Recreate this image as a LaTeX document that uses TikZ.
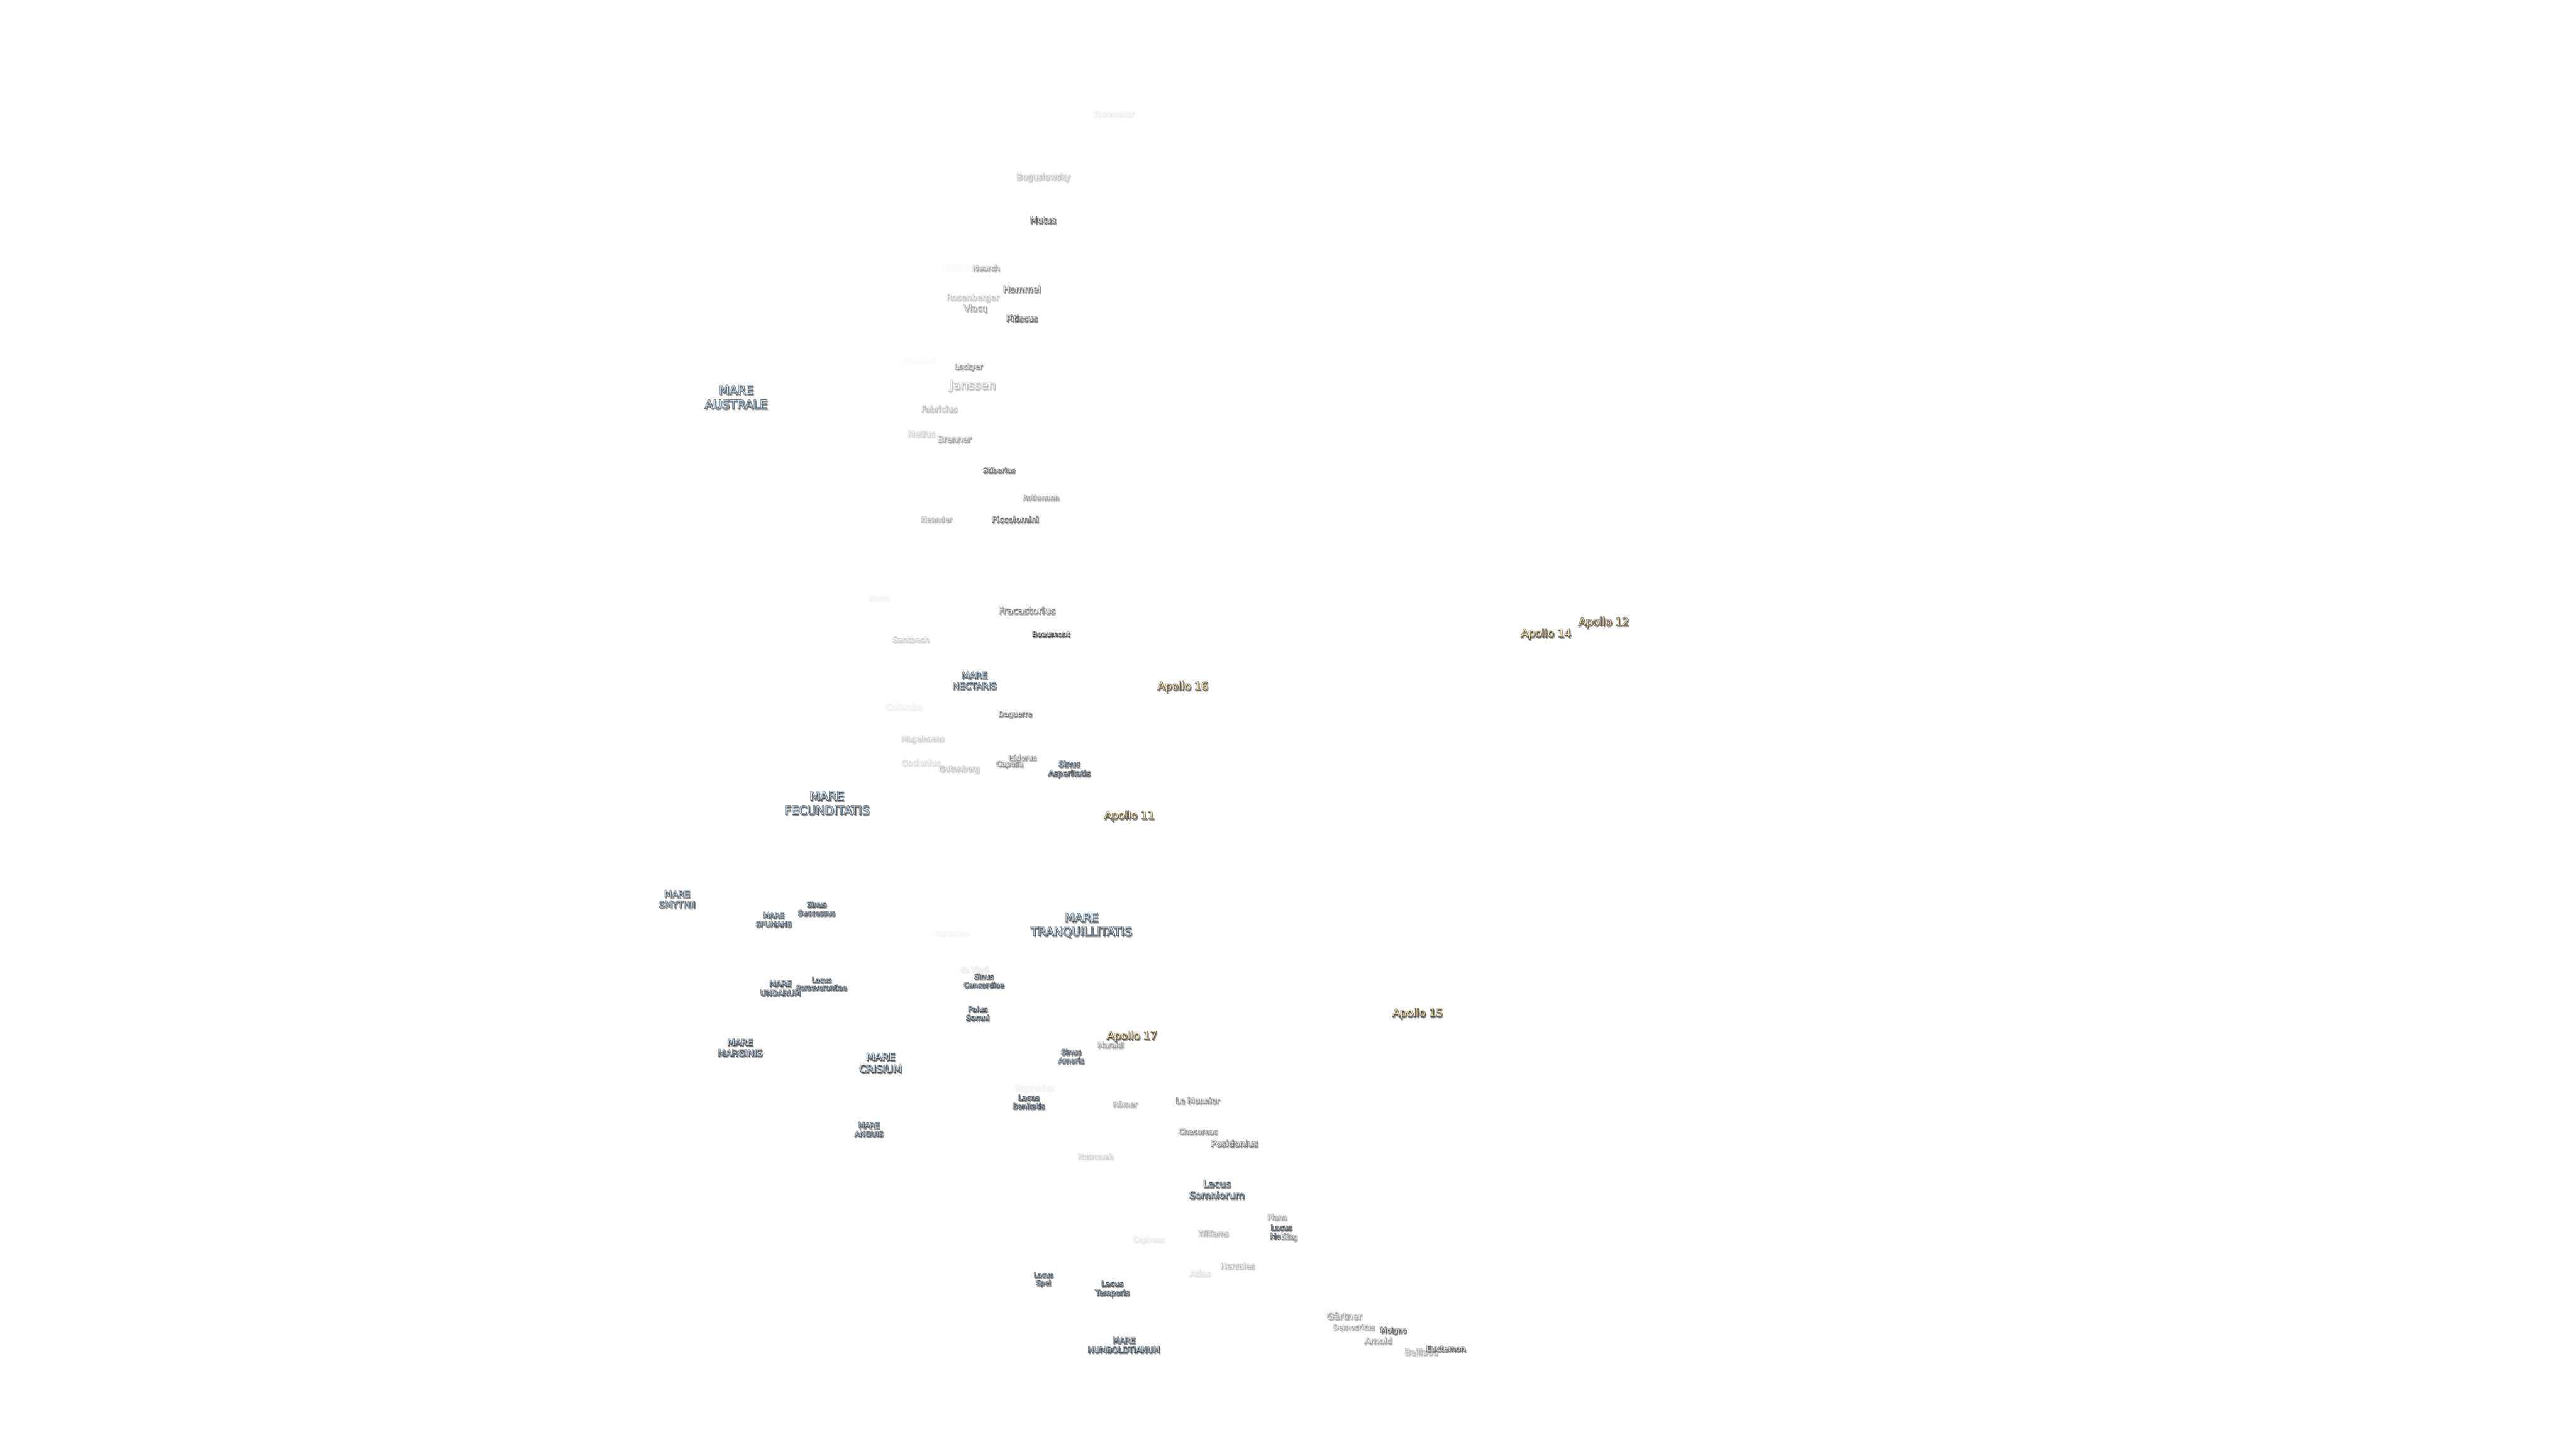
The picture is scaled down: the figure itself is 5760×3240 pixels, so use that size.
\documentclass[tikz,border=0pt]{standalone}
\usepackage{fontspec}
\setmainfont{DejaVu Sans}
\definecolor{marefill}{RGB}{190,216,240}
\definecolor{apollofill}{RGB}{250,224,170}
\tikzset{
  namebox/.style={inner sep=0pt, align=center, anchor=center},
  sitemark/.style={circle, inner sep=0pt, minimum size=4pt, fill=#1},
}
% node name, x, y, size, fill, fade, text
\newcommand{\moonname}[7]{%
  \pgfmathsetmacro{\edgegray}{1-0.72*pow(#6,0.8)}%
  \pgfmathsetmacro{\dropgray}{1-0.42*pow(#6,0.8)}%
  \pgfmathsetmacro{\linegap}{#4*1.18}%
  \node[namebox, text=white, font=\fontsize{#4}{\linegap}\selectfont] (#1drop) at (#2+2,#3+3)
    {\leavevmode\special{pdf:code 2 Tr 1.8 w \dropgray\space g \dropgray\space G}#7\special{pdf:code 0 Tr}};
  \node[namebox, text=white, font=\fontsize{#4}{\linegap}\selectfont] (#1edge) at (#2,#3)
    {\leavevmode\special{pdf:code 2 Tr 1.8 w \edgegray\space g \edgegray\space G}#7\special{pdf:code 0 Tr}};
  \node[namebox, text=#5, font=\fontsize{#4}{\linegap}\selectfont] (#1) at (#2,#3) {#7};
}
\newcommand{\crater}[6]{\moonname{#1}{#2}{#3}{#4}{white}{#5}{#6}}
\newcommand{\mare}[5]{\moonname{#1}{#2}{#3}{#4}{marefill}{1}{#5}}
\newcommand{\apollo}[4]{%
  \moonname{apollo#1}{#2}{#3}{24}{apollofill}{1}{#4}%
  \node[sitemark=apollofill] (site#1) at (#2,#3+17) {};
}

\begin{document}
\begin{tikzpicture}[x=1pt, y=-1pt]
  \useasboundingbox (0,0) rectangle (5760,3240);
  \fill[white] (0,0) rectangle (5760,3240);
  % far side craters
  \crater{shoemaker}{2491}{254}{16}{0.06}{Shoemaker}
  \crater{boguslawsky}{2333}{397}{18.5}{0.3}{Boguslawsky}
  \crater{mutus}{2332}{492}{18.8}{1}{Mutus}
  \crater{hagecius}{2142}{597}{16}{0.01}{Hagecius}
  \crater{nearch}{2205}{599}{17}{0.45}{Nearch}
  \crater{hommel}{2285}{646}{20}{0.8}{Hommel}
  \crater{rosenberger}{2175}{666}{18.6}{0.25}{Rosenberger}
  \crater{vlacq}{2181}{690}{18.8}{0.5}{Vlacq}
  \crater{pitiscus}{2285}{712}{18.6}{0.9}{Pitiscus}
  \crater{steinheil}{2055}{807}{16}{0.01}{Steinheil}
  \crater{lockyer}{2166}{821}{16}{0.6}{Lockyer}
  \crater{janssen}{2175}{863}{27}{0.35}{Janssen}
  \crater{fabricius}{2100}{914}{18.3}{0.3}{Fabricius}
  \crater{metius}{2060}{970}{18.5}{0.2}{Metius}
  \crater{brenner}{2134}{982}{18.8}{0.5}{Brenner}
  \crater{stiborius}{2234}{1051}{16.3}{0.8}{Stiborius}
  \crater{rothmann}{2327}{1112}{15.8}{0.5}{Rothmann}
  \crater{neander}{2094}{1161}{16.1}{0.4}{Neander}
  \crater{piccolomini}{2270}{1161}{18.6}{0.8}{Piccolomini}
  % nectaris and fecunditatis
  \crater{borda}{1965}{1337}{16}{0.04}{Borda}
  \crater{fracastorius}{2296}{1365}{21}{0.7}{Fracastorius}
  \crater{beaumont}{2350}{1418}{16.3}{1}{Beaumont}
  \crater{santbech}{2037}{1430}{17.4}{0.2}{Santbech}
  \crater{colombo}{2021}{1580}{18.4}{0.06}{Colombo}
  \crater{daguerre}{2270}{1598}{16}{0.7}{Daguerre}
  \crater{magelhaens}{2063}{1653}{16}{0.2}{Magelhaens}
  \crater{goclenius}{2059}{1705}{17.6}{0.15}{Goclenius}
  \crater{gutenberg}{2145}{1720}{17.2}{0.3}{Gutenberg}
  \crater{capella}{2258}{1709}{16}{0.6}{Capella}
  \crater{isidorus}{2286}{1694}{16}{0.6}{Isidorus}
  \crater{taruntius}{2129}{2087}{16.4}{0.03}{Taruntius}
  \crater{davinci}{2178}{2167}{16}{0.08}{da Vinci}
  \crater{maraldi}{2484}{2337}{16}{0.5}{Maraldi}
  \crater{macrobius}{2313}{2432}{17}{0.05}{Macrobius}
  \crater{romer}{2516}{2469}{16.5}{0.4}{Römer}
  \crater{lemonnier}{2678}{2461}{17.6}{0.7}{Le Monnier}
  \crater{chacornac}{2679}{2530}{16.2}{0.6}{Chacornac}
  \crater{posidonius}{2760}{2557}{20}{0.8}{Posidonius}
  \crater{newcomb}{2450}{2586}{16}{0.2}{Newcomb}
  \crater{plana}{2856}{2722}{16}{0.5}{Plana}
  \crater{williams}{2713}{2758}{16}{0.4}{Williams}
  \crater{cepheus}{2568}{2773}{16}{0.08}{Cepheus}
  \crater{hercules}{2767}{2831}{17.3}{0.35}{Hercules}
  \crater{atlas}{2683}{2847}{18.6}{0.12}{Atlas}
  \crater{gartner}{3006}{2943}{20.4}{0.5}{Gärtner}
  \crater{democritus}{3027}{2968}{16.2}{0.5}{Democritus}
  \crater{moigno}{3116}{2976}{16}{1}{Moigno}
  \crater{arnold}{3082}{2998}{19}{0.5}{Arnold}
  \crater{baillaud}{3178}{3023}{18.4}{0.4}{Baillaud}
  \crater{euctemon}{3233}{3016}{17.4}{1}{Euctemon}
  % maria
  \mare{australe}{1646}{888}{27}{MARE\\AUSTRALE}
  \mare{nectaris}{2179}{1522}{20}{MARE\\NECTARIS}
  \mare{asperitatis}{2391}{1720}{17.6}{Sinus\\Asperitatis}
  \mare{fecunditatis}{1849}{1796}{26.7}{MARE\\FECUNDITATIS}
  \mare{smythii}{1514}{2011}{20}{MARE\\SMYTHII}
  \mare{successus}{1826}{2032}{16}{Sinus\\Successus}
  \mare{spumans}{1730}{2057}{16.3}{MARE\\SPUMANS}
  \mare{tranquillitatis}{2418}{2069}{26.3}{MARE\\TRANQUILLITATIS}
  \mare{concordiae}{2200}{2193}{16}{Sinus\\Concordiae}
  \mare{perseverantiae}{1837}{2200}{15}{Lacus\\Perseverantiae}
  \mare{undarum}{1745}{2210}{17.3}{MARE\\UNDARUM}
  \mare{somni}{2186}{2266}{16.5}{Palus\\Somni}
  \mare{marginis}{1655}{2343}{20}{MARE\\MARGINIS}
  \mare{amoris}{2395}{2362}{16.5}{Sinus\\Amoris}
  \mare{crisium}{1969}{2377}{22.6}{MARE\\CRISIUM}
  \mare{bonitatis}{2300}{2464}{16.3}{Lacus\\Bonitatis}
  \mare{anguis}{1943}{2526}{16.5}{MARE\\ANGUIS}
  \mare{somniorum}{2721}{2660}{21.4}{Lacus\\Somniorum}
  \mare{mortis}{2865}{2755}{16.4}{Lacus\\Mortis}
  \crater{burg}{2882}{2767}{16}{0.5}{Bürg}
  \mare{spei}{2333}{2861}{15}{Lacus\\Spei}
  \mare{temporis}{2487}{2882}{17}{Lacus\\Temporis}
  \mare{humboldtianum}{2513}{3008}{17.8}{MARE\\HUMBOLDTIANUM}
  % landing sites
  \apollo{sixteen}{2645}{1536}{Apollo 16}
  \apollo{eleven}{2525}{1825}{Apollo 11}
  \apollo{twelve}{3586}{1392}{Apollo 12}
  \apollo{fourteen}{3457}{1418}{Apollo 14}
  \apollo{fifteen}{3170}{2267}{Apollo 15}
  \apollo{seventeen}{2531}{2318}{Apollo 17}
\end{tikzpicture}
\end{document}
